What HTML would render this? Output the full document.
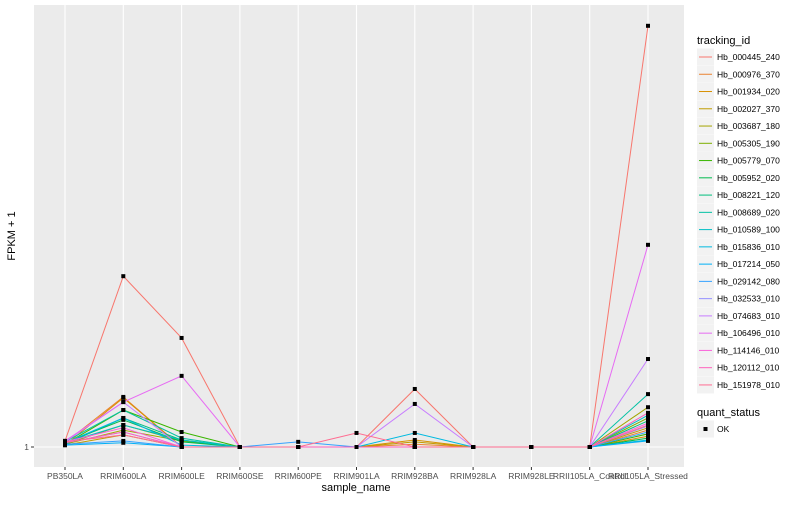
<!DOCTYPE html>
<html><head><meta charset="utf-8"><style>
body{margin:0;background:#fff;font-family:"Liberation Sans",sans-serif}
svg text{font-family:"Liberation Sans",sans-serif}
</style></head><body>
<svg id="chart" width="800" height="500" xmlns="http://www.w3.org/2000/svg">
<rect x="0" y="0" width="800" height="500" fill="#fff"/>
<rect x="34" y="5" width="650" height="462" fill="#EBEBEB"/>
<g id="grid"></g><g id="lines"></g><g id="pts"></g><g id="axes"></g><g id="legend"></g>
<text x="356" y="491" text-anchor="middle" font-size="11" fill="#000">sample_name</text>
<text transform="translate(15,236) rotate(-90)" text-anchor="middle" font-size="11" fill="#000">FPKM + 1</text>
</svg>
<script>
const categories=["PB350LA","RRIM600LA","RRIM600LE","RRIM600SE","RRIM600PE","RRIM901LA","RRIM928BA","RRIM928LA","RRIM928LE","RRII105LA_Control","RRII105LA_Stressed"];
const seriesNames=["Hb_000445_240","Hb_000976_370","Hb_001934_020","Hb_002027_370","Hb_003687_180","Hb_005305_190","Hb_005779_070","Hb_005952_020","Hb_008221_120","Hb_008689_020","Hb_010589_100","Hb_015836_010","Hb_017214_050","Hb_029142_080","Hb_032533_010","Hb_074683_010","Hb_106496_010","Hb_114146_010","Hb_120112_010","Hb_151978_010"];
const colors=["#F8766D","#EA8331","#D89000","#C09B00","#A3A500","#7CAE00","#39B600","#00BB4E","#00BF7D","#00C1A3","#00BFC4","#00BAE0","#00B0F6","#35A2FF","#9590FF","#C77CFF","#E76BF3","#FA62DB","#FF62BC","#FF6C91"];
const s0=[1.13,4.65,3.33,1,1,1,2.24,1,1,1,10.0];
const s1=[1.09,2.07,1,1,1,1,1.06,1,1,1,1.36];
const s2=[1.04,2.05,1,1,1,1,1.15,1,1,1,1.23];
const s3=[1.04,1.26,1,1,1,1,1.11,1,1,1,1.41];
const s4=[1.06,1.36,1.13,1,1,1,1,1,1,1,1.85];
const s5=[1.06,1.47,1.13,1,1,1,1,1,1,1,1.62];
const s6=[1.06,1.79,1.32,1,1,1,1,1,1,1,1.28];
const s7=[1.09,1.58,1.11,1,1,1,1,1,1,1,1.19];
const s8=[1.06,1.62,1.15,1,1,1,1,1,1,1,1.56];
const s9=[1.11,1.79,1.19,1,1,1,1,1,1,1,2.13];
const s10=[1.09,1.47,1.15,1,1,1,1,1,1,1,1.68];
const s11=[1.09,1.62,1.04,1,1,1,1.30,1,1,1,1.15];
const s12=[1.04,1.09,1,1,1,1,1,1,1,1,1.13];
const s13=[1.06,1.13,1,1,1.11,1,1,1,1,1,1.32];
const s14=[1.09,1.32,1,1,1,1,1,1,1,1,1.45];
const s15=[1.11,1.96,1,1,1,1,1.92,1,1,1,2.88];
const s16=[1.13,1.96,2.52,1,1,1,1,1,1,1,5.32];
const s17=[1.11,1.41,1,1,1,1,1,1,1,1,1.51];
const s18=[1.09,1.32,1,1,1,1,1,1,1,1,1.73];
const s19=[1.11,1.26,1,1,1,1.30,1,1,1,1,1.47];
const series=[s0,s1,s2,s3,s4,s5,s6,s7,s8,s9,s10,s11,s12,s13,s14,s15,s16,s17,s18,s19];
const yTicks=[1];
const NS="http://www.w3.org/2000/svg";
function xs(i){return 65+i*58.3;}
function ys(v){return 447-(v-1)*46.8;}
function mk(tag,attrs,parent,txt){const e=document.createElementNS(NS,tag);for(const k in attrs)e.setAttribute(k,attrs[k]);if(txt!==undefined)e.textContent=txt;parent.appendChild(e);return e;}
const grid=document.getElementById('grid'),lines=document.getElementById('lines'),pts=document.getElementById('pts'),axes=document.getElementById('axes'),leg=document.getElementById('legend');
categories.forEach((c,i)=>{
  const g=mk('line',{x1:xs(i),x2:xs(i),y1:5,y2:467,stroke:'#fff','stroke-width':1.1},grid);
  
  
  const tk=mk('line',{x1:xs(i),x2:xs(i),y1:467,y2:470,stroke:'#333'},axes);
  
  
  const t=mk('text',{x:xs(i),y:479,'text-anchor':'middle','font-size':8.5,fill:'#4D4D4D'},axes,c);
  
  
});
yTicks.forEach(v=>{
  const g=mk('line',{x1:34,x2:684,y1:ys(v),y2:ys(v),stroke:'#fff','stroke-width':1.1},grid);
  
  
  const tk=mk('line',{x1:31,x2:34,y1:ys(v),y2:ys(v),stroke:'#333'},axes);
  
  
  const t=mk('text',{x:29,y:ys(v)+3,'text-anchor':'end','font-size':8.5,fill:'#4D4D4D'},axes,String(v));
  
  
});
series.forEach((s,k)=>{
  const p=mk('polyline',{points:s.map((v,i)=>xs(i)+','+ys(v)).join(' '),fill:'none',stroke:colors[k],'stroke-width':1},lines);
  
  
});
series.forEach((s,k)=>{s.forEach((v,i)=>{
  const r=mk('rect',{x:xs(i)-2,y:ys(v)-2,width:4,height:4,fill:'#000'},pts);
  
  
});});
const lt=mk('text',{x:697,y:44,'font-size':11,fill:'#000'},leg,'tracking_id');


seriesNames.forEach((n,k)=>{
  const y=57+k*17.26;
  const g=mk('g',{},leg);
  
  
  mk('rect',{x:697,y:y-8.5,width:17,height:17,fill:'#F2F2F2'},g);
  mk('line',{x1:699,x2:712,y1:y,y2:y,stroke:colors[k],'stroke-width':1},g);
  mk('text',{x:717,y:y+3,'font-size':8.5,fill:'#000'},g,n);
});
const qt=mk('text',{x:697,y:416,'font-size':11,fill:'#000'},leg,'quant_status');


const qg=mk('g',{},leg);


mk('rect',{x:697,y:420.5,width:17,height:17,fill:'#F2F2F2'},qg);
mk('rect',{x:703.5,y:427,width:4,height:4,fill:'#000'},qg);
mk('text',{x:717,y:432,'font-size':8.5,fill:'#000'},qg,'OK');
</script>
</body></html>
